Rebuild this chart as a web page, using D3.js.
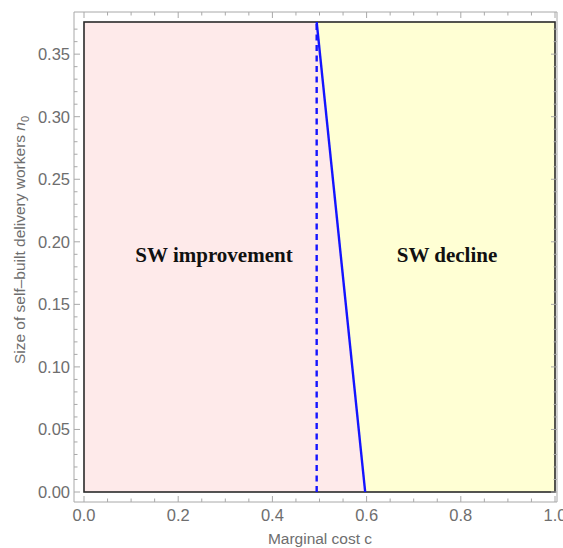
<!DOCTYPE html>
<html>
<head>
<meta charset="utf-8">
<script src="https://cdn.jsdelivr.net/npm/d3@7"></script>
<style>
  body { margin: 0; background: #fff; }
  svg { display: block; }
</style>
</head>
<body>
<svg id="chart"></svg>
<script>
// data
var xDomain = [0, 1];
var yDomain = [0, 0.3757];
var xTicks = [0, 0.2, 0.4, 0.6, 0.8, 1.0];
var yTicks = [0, 0.05, 0.10, 0.15, 0.20, 0.25, 0.30, 0.35];
var dashedBoundary = [[0.494, 0], [0.494, 0.3757]];
var solidBoundary = [[0.494, 0.3757], [0.597, 0]];
var regionLabels = ["SW improvement", "SW decline"];

var width = 563, height = 548;
var plot = { left: 84, right: 555, top: 22, bottom: 492 };
var frame = { left: 74, right: 557, top: 12, bottom: 502 };

var svg = d3.select("#chart").attr("width", width).attr("height", height);

var x = d3.scaleLinear().domain(xDomain).range([plot.left, plot.right]);
var y = d3.scaleLinear().domain(yDomain).range([plot.bottom, plot.top]);

// regions
var leftRegion = [[xDomain[0], yDomain[0]], [xDomain[0], yDomain[1]], solidBoundary[0], solidBoundary[1]];
var rightRegion = [solidBoundary[0], [xDomain[1], yDomain[1]], [xDomain[1], yDomain[0]], solidBoundary[1]];
var line = d3.line().x(function(d){ return x(d[0]); }).y(function(d){ return y(d[1]); });

svg.append("path").attr("d", line(leftRegion) + "Z").attr("fill", "#feeaea");
svg.append("path").attr("d", line(rightRegion) + "Z").attr("fill", "#ffffd4");

// plot border
svg.append("rect")
    .attr("x", x(xDomain[0])).attr("y", y(yDomain[1]))
    .attr("width", x(xDomain[1]) - x(xDomain[0]))
    .attr("height", y(yDomain[0]) - y(yDomain[1]))
    .attr("fill", "none").attr("stroke", "#2a2a2a").attr("stroke-width", 1.6);

// boundaries
svg.append("path").attr("d", line(dashedBoundary))
    .attr("stroke", "#1414ff").attr("stroke-width", 2.4).attr("fill", "none")
    .attr("stroke-dasharray", "6,4.5");
svg.append("path").attr("d", line(solidBoundary))
    .attr("stroke", "#1414ff").attr("stroke-width", 2.4).attr("fill", "none");

// frame
var frameColor = "#a8a8a8";
var g = svg.append("g").attr("stroke", frameColor).attr("stroke-width", 1);
g.append("line").attr("x1", frame.left).attr("x2", frame.right).attr("y1", frame.bottom).attr("y2", frame.bottom);
g.append("line").attr("x1", frame.left).attr("x2", frame.right).attr("y1", frame.top).attr("y2", frame.top);
g.append("line").attr("x1", frame.left).attr("x2", frame.left).attr("y1", frame.top).attr("y2", frame.bottom);
g.append("line").attr("x1", frame.right).attr("x2", frame.right).attr("y1", frame.top).attr("y2", frame.bottom);

var xMinor = d3.range(0, 21).map(function(i){ return i * 0.05; });
var yMinor = d3.range(0, 38).map(function(i){ return i * 0.01; });

xMinor.forEach(function(v, i){
    var len = (i % 4 === 0) ? 6 : 3.5;
    g.append("line").attr("x1", x(v)).attr("x2", x(v)).attr("y1", frame.bottom).attr("y2", frame.bottom - len);
    g.append("line").attr("x1", x(v)).attr("x2", x(v)).attr("y1", frame.top).attr("y2", frame.top + len);
});
yMinor.forEach(function(v, i){
    var len = (i % 5 === 0) ? 6 : 3.5;
    g.append("line").attr("x1", frame.left).attr("x2", frame.left + len).attr("y1", y(v)).attr("y2", y(v));
    g.append("line").attr("x1", frame.right).attr("x2", frame.right - len).attr("y1", y(v)).attr("y2", y(v));
});

// tick labels
var labelColor = "#6e6e6e";
svg.selectAll(".xtl").data(xTicks).enter().append("text")
    .attr("x", function(d){ return x(d); }).attr("y", 521)
    .attr("text-anchor", "middle")
    .attr("font-family", "Liberation Sans, Arial, sans-serif").attr("font-size", 16.5)
    .attr("fill", labelColor)
    .text(function(d){ return d3.format(".1f")(d); });
svg.selectAll(".ytl").data(yTicks).enter().append("text")
    .attr("x", frame.left - 4).attr("y", function(d){ return y(d) + 6; })
    .attr("text-anchor", "end")
    .attr("font-family", "Liberation Sans, Arial, sans-serif").attr("font-size", 16.5)
    .attr("fill", labelColor)
    .text(function(d){ return d3.format(".2f")(d); });

// axis labels
svg.append("text").attr("x", 320).attr("y", 544).attr("text-anchor", "middle")
    .attr("font-family", "Liberation Sans, Arial, sans-serif").attr("font-size", 15.5)
    .attr("fill", labelColor).text("Marginal cost c");
var yl = svg.append("text").attr("transform", "translate(25,240) rotate(-90)")
    .attr("text-anchor", "middle")
    .attr("font-family", "Liberation Sans, Arial, sans-serif").attr("font-size", 15.5)
    .attr("fill", labelColor);
yl.append("tspan").text("Size of self\u2013built delivery workers ");
yl.append("tspan").attr("font-style", "italic").text("n");
yl.append("tspan").attr("font-size", 11).attr("dy", 4).text("0");

// region labels
svg.append("text").attr("x", 214).attr("y", 262).attr("text-anchor", "middle")
    .attr("font-family", "Liberation Serif, Times New Roman, serif").attr("font-weight", "bold")
    .attr("font-size", 21).attr("fill", "#111").text(regionLabels[0]);
svg.append("text").attr("x", 447).attr("y", 262).attr("text-anchor", "middle")
    .attr("font-family", "Liberation Serif, Times New Roman, serif").attr("font-weight", "bold")
    .attr("font-size", 21).attr("fill", "#111").text(regionLabels[1]);
</script>
</body>
</html>
